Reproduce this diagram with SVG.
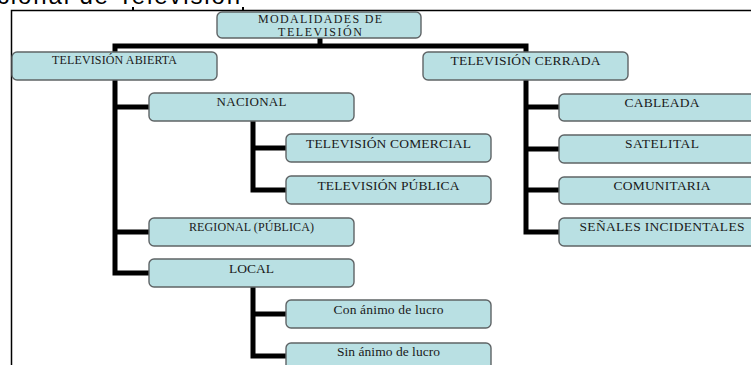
<svg xmlns="http://www.w3.org/2000/svg" width="751" height="365" viewBox="0 0 751 365">
<style>
.box{fill:#b9e0e3;stroke:#5f6466;stroke-width:1.4}
.t{font-family:"Liberation Serif","Times New Roman",serif;fill:#1a1a1a;text-anchor:middle;font-size:13.5px}
.c{fill:none;stroke:#000;stroke-width:5}
.frame{fill:none;stroke:#000;stroke-width:1.5}
</style>
<rect width="751" height="365" fill="#fff"/>
<text x="-3" y="4" font-family="Liberation Sans, Arial, sans-serif" font-size="24" fill="#000" textLength="243">cional de Televisión</text>
<path class="frame" d="M11.5 365 V10.5 H751"/>
<path d="M133 7 V10 M243 7 V10" stroke="#000" stroke-width="2"/>
<g id="connectors">
<path class="c" d="M320 38 V46 M115 52 V46 H526 V52"/>
<path class="c" d="M115 80 V273 H149 M115 107 H149 M115 232 H149"/>
<path class="c" d="M253 121 V190 H286 M253 148 H286"/>
<path class="c" d="M253 287 V356 H286 M253 314 H286"/>
<path class="c" d="M526 80 V232 H559 M526 107 H559 M526 149 H559 M526 190 H559"/>
</g>
<g id="modalidades"><rect class="box" x="217" y="12" width="204" height="26" rx="5"/><text class="t" x="320" y="23" style="font-size:12px" textLength="124">MODALIDADES DE</text><text class="t" x="320" y="35.5" style="font-size:12px" textLength="84">TELEVISIÓN</text></g>
<g id="abierta"><rect class="box" x="12" y="52" width="205" height="28" rx="5"/><text class="t" x="114.5" y="64" style="font-size:12px" textLength="125">TELEVISIÓN ABIERTA</text></g>
<g id="cerrada"><rect class="box" x="423" y="52" width="205" height="28" rx="5"/><text class="t" x="525.5" y="65" textLength="150">TELEVISIÓN CERRADA</text></g>
<g id="nacional"><rect class="box" x="149" y="93" width="205" height="28" rx="5"/><text class="t" x="251.5" y="106" style="font-size:13px" textLength="70">NACIONAL</text></g>
<g id="comercial"><rect class="box" x="286" y="134" width="205" height="28" rx="5"/><text class="t" x="388.5" y="147.5" textLength="165">TELEVISIÓN COMERCIAL</text></g>
<g id="publica"><rect class="box" x="286" y="176" width="205" height="28" rx="5"/><text class="t" x="388.5" y="189.5" textLength="142">TELEVISIÓN PÚBLICA</text></g>
<g id="regional"><rect class="box" x="149" y="218" width="205" height="28" rx="5"/><text class="t" x="251.5" y="230.5" style="font-size:12px" textLength="125">REGIONAL (PÚBLICA)</text></g>
<g id="local"><rect class="box" x="149" y="259" width="205" height="28" rx="5"/><text class="t" x="251.5" y="272.5" textLength="45">LOCAL</text></g>
<g id="con-animo"><rect class="box" x="286" y="300" width="205" height="28" rx="5"/><text class="t" x="388.5" y="314" textLength="110">Con ánimo de lucro</text></g>
<g id="sin-animo"><rect class="box" x="286" y="343" width="205" height="28" rx="5"/><text class="t" x="388.5" y="356" textLength="103">Sin ánimo de lucro</text></g>
<g id="cableada"><rect class="box" x="559" y="94" width="206" height="27" rx="5"/><text class="t" x="662" y="106.5" textLength="75">CABLEADA</text></g>
<g id="satelital"><rect class="box" x="559" y="135" width="206" height="28" rx="5"/><text class="t" x="662" y="148" textLength="74">SATELITAL</text></g>
<g id="comunitaria"><rect class="box" x="559" y="177" width="206" height="27" rx="5"/><text class="t" x="662" y="189.5" textLength="97">COMUNITARIA</text></g>
<g id="senales"><rect class="box" x="559" y="218" width="206" height="28" rx="5"/><text class="t" x="662" y="231" textLength="165">SEÑALES INCIDENTALES</text></g>
</svg>
